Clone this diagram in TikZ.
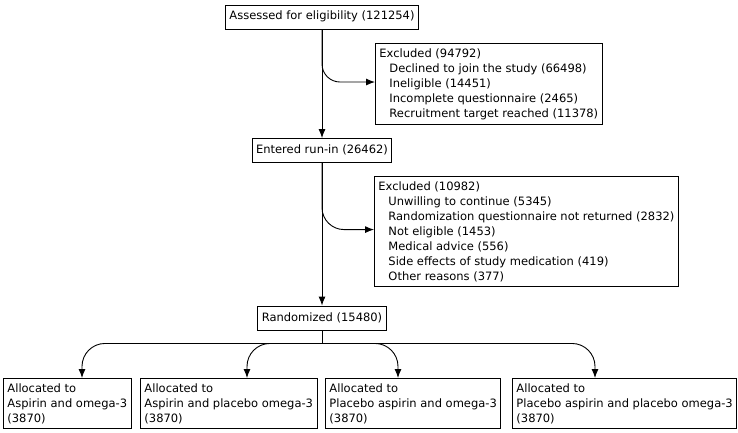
\documentclass[tikz,border=0pt]{standalone}
\usepackage{fontspec}
\setmainfont{DejaVu Sans}
\usetikzlibrary{arrows.meta,calc}

\newcommand{\sub}{\hspace*{10pt}}

\begin{document}
\begin{tikzpicture}[x=1pt,y=-1pt,>={Latex[length=9pt,width=7pt]},
  box/.style={draw,line width=0.9pt,inner xsep=4pt,inner ysep=5pt,align=left,
    font=\fontsize{11.5}{15}\selectfont},
  onebox/.style={box,text height=10pt,text depth=4pt},
  arr/.style={->,line width=0.9pt}]
\useasboundingbox (0,0) rectangle (738,433);
% main column
\node[onebox] (assess) at (322,17) {Assessed for eligibility (121254)};
\node[onebox] (entered) at (322,150.5) {Entered run-in (26462)};
\node[onebox] (rand) at (322,318) {Randomized (15480)};
% exclusions
\node[box,anchor=north west] (excl1) at (375,43) {Excluded (94792)\\
  \sub Declined to join the study (66498)\\
  \sub Ineligible (14451)\\
  \sub Incomplete questionnaire (2465)\\
  \sub Recruitment target reached (11378)};
\node[box,anchor=north west] (excl2) at (374,176) {Excluded (10982)\\
  \sub Unwilling to continue (5345)\\
  \sub Randomization questionnaire not returned (2832)\\
  \sub Not eligible (1453)\\
  \sub Medical advice (556)\\
  \sub Side effects of study medication (419)\\
  \sub Other reasons (377)};
% allocation
\node[box,anchor=north west] (alloc1) at (3,378) {Allocated to\\Aspirin and omega-3\\(3870)};
\node[box,anchor=north west] (alloc2) at (140,378) {Allocated to\\Aspirin and placebo omega-3\\(3870)};
\node[box,anchor=north west] (alloc3) at (325,378) {Allocated to\\Placebo aspirin and omega-3\\(3870)};
\node[box,anchor=north west] (alloc4) at (512,378) {Allocated to\\Placebo aspirin and placebo omega-3\\(3870)};

\draw[arr] (assess) -- (entered);
\draw[arr] (entered) -- (rand);
\draw[arr,rounded corners=18pt] (assess.south) |- ([yshift=2pt]excl1.west);
\draw[arr,rounded corners=22pt] (entered.south) |- ([yshift=2pt]excl2.west);

\draw[line width=0.9pt] (rand.south) -- ++(0,13) coordinate (split);
\draw[arr,rounded corners=23pt] (split) -| ([xshift=79pt]alloc1.north west);
\draw[arr,rounded corners=23pt] (split) -| ([xshift=107pt]alloc2.north west);
\draw[arr,rounded corners=23pt] (split) -| ([xshift=73pt]alloc3.north west);
\draw[arr,rounded corners=23pt] (split) -| ([xshift=83pt]alloc4.north west);
\end{tikzpicture}
\end{document}
